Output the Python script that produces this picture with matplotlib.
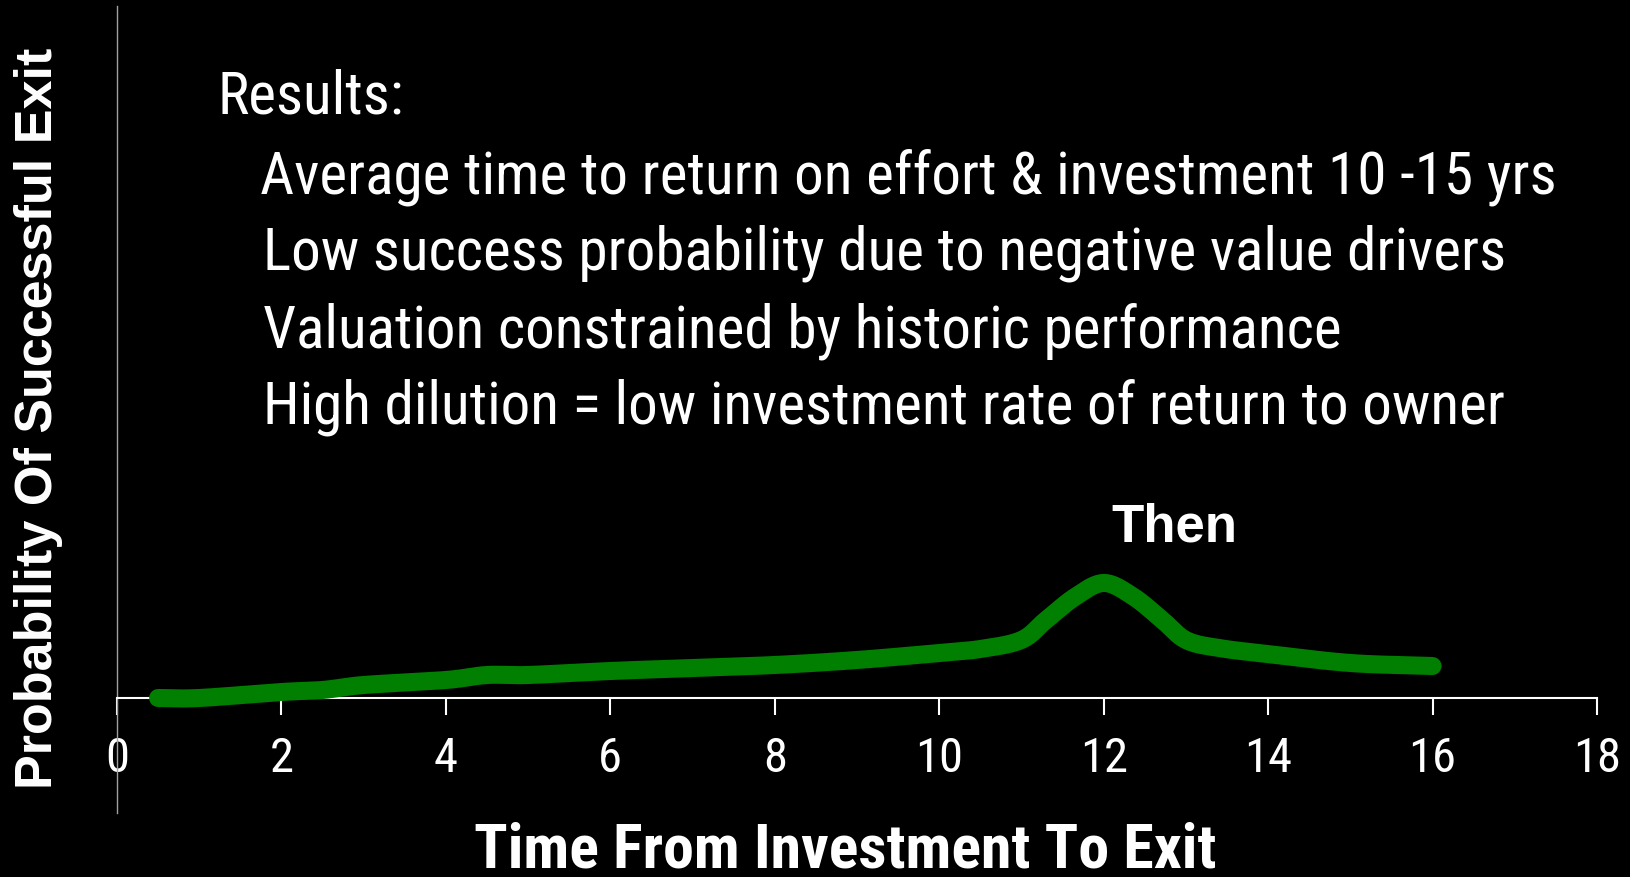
import numpy as np
import matplotlib
matplotlib.use('Agg')
import matplotlib.pyplot as plt
from matplotlib import font_manager

# Data (y in arbitrary probability units)
years = [0.5, 1, 2, 2.5, 3, 4, 4.5, 5, 6, 7, 8, 9, 10, 10.5, 11, 11.3, 11.65, 12, 12.35, 12.7, 13, 13.4, 14, 15, 16]
prob = [0.0, 0.0, 0.6, 0.8, 1.3, 1.8, 2.3, 2.3, 2.7, 3.0, 3.3, 3.8, 4.5, 4.9, 5.8, 7.8, 10.1, 11.5, 10.2, 7.9, 5.8, 5.0, 4.4, 3.5, 3.2]
xticks = [0, 2, 4, 6, 8, 10, 12, 14, 16, 18]

notes = ["Results:",
         "Average time to return on effort & investment 10 -15 yrs",
         "Low success probability due to negative value drivers",
         "Valuation constrained by historic performance",
         "High dilution = low investment rate of return to owner"]


def smooth(x, y, n=30):
    # Catmull-Rom curve through the points, like a smoothed Excel line
    x = np.asarray(x, float)
    y = np.asarray(y, float)
    px = np.concatenate([[2 * x[0] - x[1]], x, [2 * x[-1] - x[-2]]])
    py = np.concatenate([[2 * y[0] - y[1]], y, [2 * y[-1] - y[-2]]])
    t = np.linspace(0, 1, n)[:, None]
    xs, ys = [], []
    for i in range(1, len(px) - 2):
        p = np.array([[px[i - 1], py[i - 1]], [px[i], py[i]],
                      [px[i + 1], py[i + 1]], [px[i + 2], py[i + 2]]])
        c = 0.5 * ((2 * p[1]) + (-p[0] + p[2]) * t + (2 * p[0] - 5 * p[1] + 4 * p[2] - p[3]) * t ** 2
                   + (-p[0] + 3 * p[1] - 3 * p[2] + p[3]) * t ** 3)
        xs.append(c[:, 0])
        ys.append(c[:, 1])
    return np.concatenate(xs), np.concatenate(ys)


def pick_narrow():
    # look for a condensed sans face, else plain Liberation Sans
    for fam, stretch in [('Liberation Sans Narrow', 'normal'), ('Roboto Condensed', 'normal'),
                         ('DejaVu Sans', 'condensed'), ('Open Sans', 'condensed')]:
        try:
            f = font_manager.findfont(font_manager.FontProperties(family=fam, stretch=stretch),
                                      fallback_to_default=False)
        except Exception:
            continue
        if fam != 'DejaVu Sans' and fam != 'Open Sans':
            return fam, stretch
        if 'ondensed' in f:
            return fam, stretch
    return 'Liberation Sans', 'normal'


W, H = 1630, 877
narrow, stretch = pick_narrow()
arial = 'Liberation Sans'
plt.rcParams['font.family'] = [narrow, 'DejaVu Sans']
plt.rcParams['font.stretch'] = stretch

fig = plt.figure(figsize=(W / 100, H / 100), dpi=100, facecolor='black')
ax = fig.add_axes([117 / W, 1 - 813 / H, 1480 / W, 807 / H])
ax.set_facecolor('black')
renderer = fig.canvas.get_renderer()


def fit(t, length_px, size):
    # shrink the font until the text is no longer than in the reference
    t.set_fontsize(size)
    bb = t.get_window_extent(renderer)
    L = bb.height if t.get_rotation() == 90 else bb.width
    if L > length_px:
        t.set_fontsize(size * length_px / L)
    return t


sx, sy = smooth(years, prob)
ax.plot(sx, sy, color='#007f00', lw=13, solid_capstyle='round', zorder=3)

ax.set_xlim(0, 18)
ax.set_ylim(-11.5, 69.2)
ax.set_xticks(xticks)
ax.set_yticks([])
ax.tick_params(axis='x', direction='out', length=12, width=1.5, color='white',
               labelcolor='white', labelsize=35, pad=15)

ax.spines['top'].set_visible(False)
ax.spines['right'].set_visible(False)
ax.spines['bottom'].set_position(('data', 0))
ax.spines['bottom'].set_color('white')
ax.spines['bottom'].set_linewidth(1.5)
ax.spines['left'].set_color('#a0a0a0')
ax.spines['left'].set_linewidth(1)

# annotation text
lefts = [218, 260, 263, 263, 263]
bases = [113, 193, 270, 347, 423]
texts = []
for txt, lx, by in zip(notes, lefts, bases):
    texts.append(fig.text(lx / W, 1 - by / H, txt, fontsize=45,
                          color='white', va='baseline', ha='left'))
fit(texts[1], 1293, 45)
for t in texts:
    t.set_fontsize(texts[1].get_fontsize())

then = fig.text(1174 / W, 1 - 527 / H, 'Then', family=arial, fontsize=38, fontweight='bold',
                color='white', ha='center', va='center')

xl = fig.text(845 / W, 1 - 868 / H, 'Time From Investment To Exit',
              fontweight='bold', color='white', ha='center', va='baseline')
fit(xl, 743, 46)
yl = fig.text(39 / W, 1 - 418 / H, 'Probability Of Successful Exit', family=arial,
              fontweight='bold', color='white', ha='center', va='center', rotation=90)
fit(yl, 743, 42)

fig.savefig('out.png', dpi=100, facecolor='black')
